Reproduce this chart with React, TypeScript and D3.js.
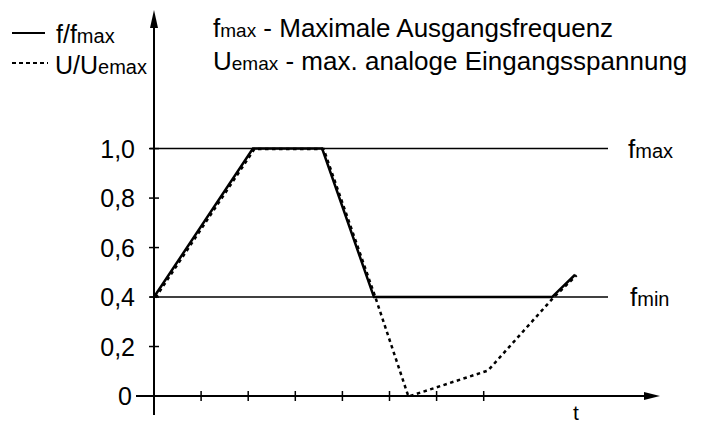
import React from 'react';
import * as d3 from 'd3';

// values (t in tick units, y as fraction of fmax)
const fTimes = [0, 2.1, 3.57, 4.67, 8.45, 8.94];
const fValues = [0.4, 1.0, 1.0, 0.4, 0.4, 0.49];
const uTimes = [0, 2.1, 3.57, 4.67, 5.37, 7.06, 8.45, 8.94];
const uValues = [0.4, 1.0, 1.0, 0.4, 0, 0.105, 0.4, 0.49];
const yTicks = [0, 0.2, 0.4, 0.6, 0.8, 1.0];
const yTickLabels = ['0', '0,2', '0,4', '0,6', '0,8', '1,0'];
const xTicks = [1, 2, 3, 4, 5, 6, 7];
const refLevels = [1.0, 0.4];
const refNames = ['min', 'max'];

const FONT = '"Liberation Sans", Arial, Helvetica, sans-serif';

const App = () => {
  const width = 701;
  const height = 425;

  const x = d3.scaleLinear().domain([0, 7]).range([154, 483.7]);
  const y = d3.scaleLinear().domain([0, 1]).range([396, 148.6]);

  const line = d3.line<[number, number]>()
    .x(d => x(d[0]))
    .y(d => y(d[1]));

  const fPts = fTimes.map((t, i) => [t, fValues[i]] as [number, number]);
  const uPts = uTimes.map((t, i) => [t, uValues[i]] as [number, number]);

  const x0 = x(0);
  const yBase = y(0);
  const refEnd = 608;

  return (
    <svg
      width={width}
      height={height}
      style={{ position: 'absolute', left: 0, top: 0, background: '#fff' }}
      fontFamily={FONT}
    >
      {/* legend */}
      <line x1={12} x2={45} y1={33} y2={33} stroke="#000" strokeWidth={2} />
      <text x={56} y={43} fontSize={25}>
        f/f<tspan fontSize={20}>max</tspan>
      </text>
      <line x1={12} x2={48} y1={63} y2={63} stroke="#000" strokeWidth={2} strokeDasharray="4,3" />
      <text x={55} y={74} fontSize={25}>
        U/U<tspan fontSize={20}>emax</tspan>
      </text>

      {/* description */}
      <text x={213} y={37} fontSize={26}>
        f<tspan fontSize={19}>max</tspan> - Maximale Ausgangsfrequenz
      </text>
      <text x={213} y={70} fontSize={26}>
        U<tspan fontSize={19}>emax</tspan> - max. analoge Eingangsspannung
      </text>

      {/* reference lines */}
      {refLevels.map(v => (
        <line key={v} x1={x0 - 4} x2={refEnd} y1={y(v)} y2={y(v)} stroke="#000" strokeWidth={1.5} />
      ))}
      <text x={628} y={y(1.0) + 9} fontSize={26}>
        f<tspan fontSize={20}>{refNames[1]}</tspan>
      </text>
      <text x={630} y={y(0.4) + 9} fontSize={26}>
        f<tspan fontSize={20}>{refNames[0]}</tspan>
      </text>

      {/* axes */}
      <line x1={x0} x2={x0} y1={22} y2={415} stroke="#000" strokeWidth={2} />
      <path d={`M${x0},10 L${x0 - 4},28 L${x0 + 4},28 Z`} fill="#000" />
      <line x1={136} x2={648} y1={yBase} y2={yBase} stroke="#000" strokeWidth={2} />
      <path d={`M660,${yBase} L644,${yBase - 4} L644,${yBase + 4} Z`} fill="#000" />

      {yTicks.slice(1).map(v => (
        <line key={v} x1={x0 - 5} x2={x0 + 5} y1={y(v)} y2={y(v)} stroke="#000" strokeWidth={1.5} />
      ))}
      {xTicks.map(t => (
        <line key={t} x1={x(t)} x2={x(t)} y1={yBase - 5} y2={yBase + 5} stroke="#000" strokeWidth={1.5} />
      ))}
      {yTicks.map((v, i) => (
        <text key={v} x={v === 0 ? 132 : 135} y={y(v)} dy="0.36em" textAnchor="end" fontSize={25}>
          {yTickLabels[i]}
        </text>
      ))}
      <text x={573} y={420} fontSize={21}>t</text>

      {/* curves */}
      <path
        d={line(uPts) || ''}
        fill="none"
        stroke="#000"
        strokeWidth={2.5}
        strokeDasharray="3.5,3.5"
        transform="translate(1.5,0.5)"
      />
      <path d={line(fPts) || ''} fill="none" stroke="#000" strokeWidth={2.5} />
    </svg>
  );
};

export default App;
